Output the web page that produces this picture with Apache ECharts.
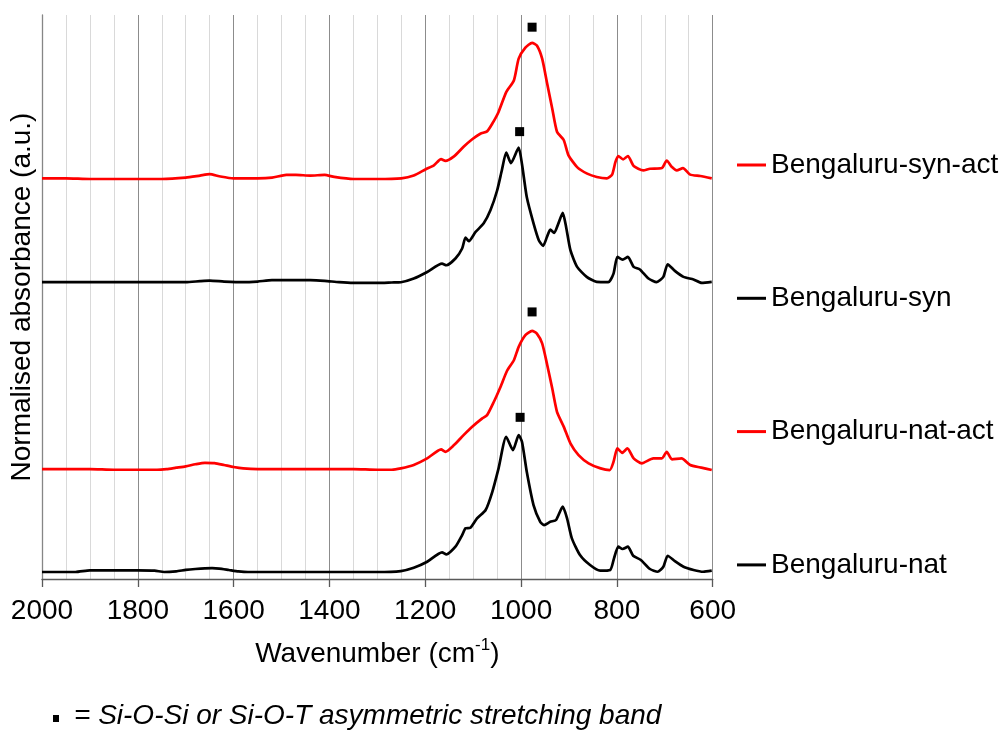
<!DOCTYPE html>
<html>
<head>
<meta charset="utf-8">
<script src="https://cdn.jsdelivr.net/npm/echarts@6/dist/echarts.min.js"></script>
<style>
  html, body { margin: 0; padding: 0; background: #fff; }
  #chart { width: 1006px; height: 731px; }
</style>
</head>
<body>
<div id="chart"></div>
<script>
// FTIR spectra, wavenumber (cm-1) vs normalised absorbance (each trace baseline ~0, main band ~1)
const synAct = [[2000,0],[1950,0],[1900,-0.005],[1850,-0.005],[1800,-0.005],[1750,-0.005],[1700,0.005],[1670,0.02],[1650,0.03],[1630,0.015],[1600,0],[1550,0],[1520,0.005],[1490,0.025],[1470,0.025],[1440,0.02],[1410,0.025],[1390,0.01],[1350,-0.005],[1300,-0.005],[1250,0],[1224,0.02],[1199,0.066],[1182,0.095],[1167,0.14],[1158,0.127],[1140,0.16],[1120,0.23],[1102,0.285],[1085,0.326],[1071,0.343],[1060,0.40],[1047,0.485],[1031,0.63],[1015,0.715],[1005,0.874],[991,0.954],[977,0.99],[967,0.97],[956,0.874],[946,0.70],[935,0.51],[925,0.34],[911,0.28],[901,0.168],[883,0.082],[862,0.034],[842,0.01],[821,0],[810,0.027],[803,0.12],[797,0.163],[787,0.139],[777,0.163],[765,0.09],[745,0.058],[731,0.07],[706,0.075],[696,0.13],[685,0.082],[675,0.058],[662,0.075],[647,0.027],[626,0.017],[602,0]];

const syn = [[2000,0],[1950,0],[1900,0],[1850,0],[1800,0],[1750,0],[1700,0],[1670,0.008],[1650,0.012],[1620,0.005],[1580,0],[1550,0.005],[1520,0.015],[1480,0.015],[1440,0.015],[1410,0.01],[1380,0],[1350,-0.005],[1300,-0.005],[1270,-0.002],[1251,0],[1224,0.027],[1196,0.075],[1165,0.136],[1156,0.124],[1137,0.173],[1123,0.246],[1116,0.326],[1109,0.30],[1095,0.367],[1078,0.43],[1064,0.525],[1050,0.67],[1040,0.82],[1031,0.947],[1021,0.87],[1005,0.983],[998,0.86],[988,0.62],[974,0.43],[963,0.307],[954,0.265],[946,0.33],[939,0.385],[931,0.36],[922,0.43],[913,0.506],[906,0.404],[897,0.234],[883,0.112],[863,0.039],[842,0.002],[818,0],[807,0.063],[799,0.185],[788,0.165],[777,0.185],[765,0.112],[752,0.093],[734,0.027],[717,0],[703,0.039],[694,0.131],[679,0.083],[661,0.039],[640,0.02],[623,-0.005],[602,0.002]];

const natAct = [[2000,0],[1950,0],[1900,0],[1850,-0.005],[1800,-0.005],[1760,-0.005],[1740,0],[1720,0.01],[1700,0.02],[1680,0.035],[1660,0.046],[1640,0.044],[1620,0.03],[1600,0.015],[1580,0.005],[1550,0],[1450,0],[1350,0],[1300,-0.005],[1270,-0.005],[1251,0.005],[1224,0.03],[1196,0.078],[1167,0.144],[1158,0.126],[1140,0.175],[1120,0.248],[1102,0.309],[1081,0.37],[1071,0.394],[1057,0.49],[1043,0.60],[1029,0.72],[1015,0.795],[1005,0.893],[991,0.978],[977,1.01],[967,0.99],[956,0.918],[946,0.77],[935,0.59],[925,0.418],[911,0.31],[897,0.188],[880,0.102],[859,0.042],[834,0.005],[815,-0.007],[807,0.053],[799,0.151],[789,0.119],[778,0.151],[765,0.078],[748,0.042],[724,0.078],[706,0.078],[696,0.126],[685,0.071],[665,0.078],[647,0.03],[626,0.012],[602,-0.007]];

const nat = [[2000,0],[1930,0],[1900,0.012],[1800,0.012],[1765,0.01],[1745,0],[1720,0.005],[1700,0.015],[1680,0.022],[1660,0.027],[1645,0.028],[1630,0.025],[1610,0.015],[1590,0.005],[1570,0],[1400,0],[1300,0],[1251,0.007],[1224,0.031],[1196,0.075],[1165,0.144],[1156,0.129],[1137,0.185],[1123,0.27],[1116,0.319],[1106,0.323],[1092,0.392],[1074,0.453],[1060,0.586],[1047,0.757],[1031,0.988],[1017,0.89],[1005,1.0],[998,0.95],[988,0.73],[974,0.489],[960,0.367],[952,0.343],[939,0.367],[927,0.38],[913,0.477],[904,0.392],[894,0.246],[877,0.124],[856,0.051],[835,0.01],[814,0.015],[806,0.1],[797,0.185],[788,0.168],[777,0.185],[766,0.119],[750,0.088],[731,0.022],[715,0.002],[703,0.039],[694,0.119],[679,0.08],[661,0.039],[640,0.015],[620,0.002],[602,0.01]];

// Stacking offsets (a.u.) that separate the traces vertically
const seriesNames = ['Bengaluru-syn-act', 'Bengaluru-syn', 'Bengaluru-nat-act', 'Bengaluru-nat'];
const seriesData = [synAct, syn, natAct, nat];
const offsets = [2.927, 2.168, 0.803, 0.051];
const colors = ['#ff0000', '#000000', '#ff0000', '#000000'];

// Si-O-Si / Si-O-T asymmetric stretching band markers (position, height above own baseline)
const bandWavenumber = [977, 1003, 977, 1002];
const bandHeight = [1.104, 1.10, 1.148, 1.13];

// Axis ticks
const xTicks = { min: 600, max: 2000, interval: 200 };

const FONT = '"Liberation Sans", Arial, sans-serif';

const lineSeries = seriesNames.map((name, i) => ({
  name: name,
  type: 'line',
  showSymbol: false,
  smooth: 0.2,
  z: 3,
  lineStyle: { color: colors[i], width: 2.7 },
  itemStyle: { color: colors[i] },
  data: seriesData[i].map(p => [p[0], p[1] + offsets[i]])
}));

const bandSeries = {
  name: 'band',
  type: 'scatter',
  symbol: 'rect',
  symbolSize: 9,
  z: 4,
  itemStyle: { color: '#000', opacity: 1 },
  data: bandWavenumber.map((w, i) => [w, bandHeight[i] + offsets[i]])
};

const chart = echarts.init(document.getElementById('chart'), null, { renderer: 'canvas' });
chart.setOption({
  animation: false,
  backgroundColor: '#fff',
  textStyle: { fontFamily: FONT },
  grid: { left: 38, right: 293.3, top: 15, bottom: 152, containLabel: false },
  legend: {
    data: seriesNames,
    orient: 'vertical',
    left: 737,
    top: 150,
    padding: 0,
    itemWidth: 29,
    itemHeight: 3,
    itemGap: 103.3,
    icon: 'rect',
    selectedMode: false,
    textStyle: { fontSize: 28, color: '#000', fontFamily: FONT, lineHeight: 30 }
  },
  xAxis: {
    type: 'value',
    min: xTicks.min,
    max: xTicks.max,
    interval: xTicks.interval,
    inverse: true,
    name: '{a|Wavenumber (cm}{s|-1}{a|)}',
    nameLocation: 'middle',
    nameGap: 58,
    nameTextStyle: {
      rich: {
        a: { fontSize: 28, color: '#000', fontFamily: FONT, lineHeight: 34 },
        s: { fontSize: 17, color: '#000', fontFamily: FONT, verticalAlign: 'top', lineHeight: 20 }
      }
    },
    axisLine: { show: true, onZero: false, lineStyle: { color: '#595959', width: 1.3 } },
    axisTick: { show: true, length: 8, lineStyle: { color: '#595959', width: 1.3 } },
    axisLabel: { fontSize: 28, color: '#000', fontFamily: FONT, margin: 18, formatter: v => String(v) },
    splitLine: { show: true, lineStyle: { color: '#8c8c8c', width: 1 } },
    minorTick: { show: false, splitNumber: 4 },
    minorSplitLine: { show: true, lineStyle: { color: '#d9d9d9', width: 1 } }
  },
  yAxis: {
    type: 'value',
    min: 0,
    max: 4.12,
    name: 'Normalised absorbance (a.u.)',
    nameLocation: 'middle',
    nameGap: 6,
    nameTextStyle: { fontSize: 28, color: '#000', fontFamily: FONT },
    axisLine: { show: true, lineStyle: { color: '#868686', width: 1.3 } },
    axisTick: { show: false },
    axisLabel: { show: false },
    splitLine: { show: false }
  },
  graphic: [
    { type: 'rect', left: 53, top: 715, shape: { width: 6, height: 7 }, style: { fill: '#000' } },
    {
      type: 'text', left: 74, top: 702,
      style: { text: '= Si-O-Si or Si-O-T asymmetric stretching band', fontSize: 28, fontStyle: 'italic', fontFamily: FONT, fill: '#000' }
    }
  ],
  series: lineSeries.concat([bandSeries])
});
</script>
</body>
</html>
